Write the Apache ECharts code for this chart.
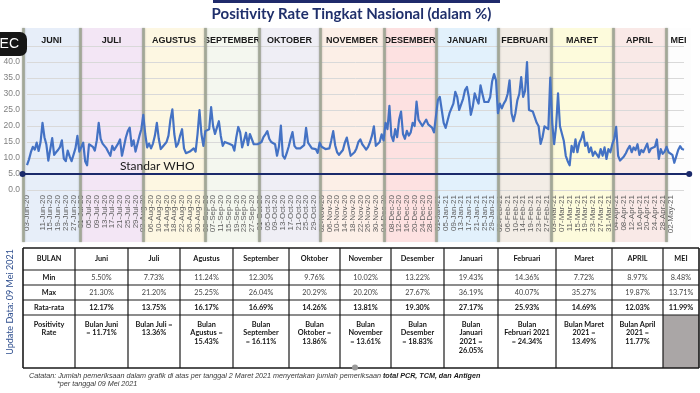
<!DOCTYPE html>
<html><head><meta charset="utf-8">
<script src="https://cdn.jsdelivr.net/npm/echarts@6/dist/echarts.min.js"></script>
<style>html,body{margin:0;padding:0;background:#fff}#c{width:700px;height:393px}</style>
</head><body><div id="c"></div>
<script>
// ---------- DATA (daily positivity rate, %) ----------
const valJun = [7.8, 9.5, 11.8, 13.5, 12.6, 14.8, 12.2, 15.0, 21.0, 16.5, 14.2, 9.2, 8.8, 16.2, 11.0, 11.8, 12.5, 13.4, 15.5, 9.8, 9.0, 12.3, 10.5, 9.0, 8.8, 13.0, 16.9, 12.0];
const valJul = [12.3, 14.8, 9.0, 7.7, 14.3, 14.8, 13.5, 12.3, 15.5, 21.0, 16.0, 14.5, 14.0, 13.0, 11.8, 10.7, 13.8, 12.5, 12.0, 14.5, 15.8, 10.7, 13.5, 16.4, 18.4, 19.5, 13.8, 15.5, 12.0, 12.5, 16.9];
const valAug = [19.0, 23.5, 17.5, 13.3, 14.5, 13.0, 14.5, 17.0, 21.0, 16.0, 12.8, 13.5, 13.0, 15.0, 17.0, 22.0, 25.2, 17.5, 13.5, 14.5, 17.0, 19.0, 13.0, 11.5, 11.2, 12.0, 11.5, 13.0, 12.0, 17.5, 25.0];
const valSep = [17.5, 13.8, 18.4, 18.0, 19.0, 25.9, 20.0, 17.5, 19.5, 21.5, 16.9, 13.8, 15.0, 15.5, 14.5, 15.0, 14.0, 12.3, 16.5, 19.7, 18.0, 13.3, 15.5, 17.9, 14.0, 17.5, 18.0, 14.3, 14.0, 14.3];
const valOct = [13.8, 15.0, 16.5, 17.4, 18.4, 16.0, 15.0, 15.5, 14.3, 10.7, 13.5, 20.1, 10.7, 9.8, 11.5, 13.5, 16.0, 18.1, 13.8, 13.0, 13.3, 13.0, 13.2, 14.0, 19.4, 14.8, 14.3, 13.0, 13.5, 12.8, 11.6];
const valNov = [14.8, 13.5, 13.3, 12.8, 13.3, 13.0, 15.5, 18.4, 14.0, 11.8, 11.0, 10.7, 12.5, 14.8, 16.4, 13.5, 10.7, 11.2, 11.8, 13.0, 15.0, 15.8, 14.3, 13.5, 12.6, 13.5, 15.0, 17.0, 19.9, 13.8];
const valDec = [14.0, 15.0, 17.4, 15.5, 21.0, 19.0, 26.3, 17.0, 15.3, 19.0, 16.5, 22.0, 24.5, 17.5, 16.0, 18.5, 17.0, 18.0, 21.0, 20.0, 27.6, 22.0, 22.5, 20.0, 21.0, 22.0, 20.5, 21.0, 19.5, 18.0, 17.7];
const valJan = [28.1, 29.1, 25.0, 21.0, 19.4, 20.0, 24.0, 25.5, 27.0, 30.7, 29.0, 25.0, 25.5, 28.5, 31.2, 32.2, 29.0, 23.5, 26.0, 30.2, 28.5, 27.0, 32.7, 30.0, 27.5, 27.1, 27.5, 29.0, 34.0, 36.2, 34.3];
const valFeb = [24.0, 27.0, 25.5, 27.0, 28.0, 30.0, 34.3, 24.0, 21.5, 24.0, 28.0, 30.0, 35.3, 29.1, 31.0, 40.0, 25.0, 25.0, 24.5, 24.0, 21.0, 19.9, 14.4, 16.5, 19.9, 20.5, 19.0];
const valMar = [35.1, 21.0, 14.3, 19.9, 30.2, 19.9, 19.4, 15.3, 10.7, 9.0, 7.7, 13.8, 11.8, 15.8, 11.8, 14.8, 16.0, 18.1, 13.8, 14.8, 11.8, 13.3, 10.7, 12.0, 11.8, 10.2, 12.8, 10.7, 13.3, 9.7, 12.8];
const valApr = [11.8, 14.3, 16.0, 19.7, 10.7, 9.2, 9.5, 10.5, 11.5, 12.8, 13.8, 11.8, 13.3, 12.5, 14.3, 11.0, 12.5, 11.8, 12.0, 14.5, 11.8, 13.0, 12.5, 13.5, 15.8, 9.7, 12.8, 11.3, 12.0, 13.5];
const valMay = [11.8, 12.3, 11.0, 8.5, 10.5, 12.5, 13.7, 12.8, 12.6];
const whoStandard = 5;
const missingDays = ['17-Feb-21'];

const monthNames = ['JUNI','JULI','AGUSTUS','SEPTEMBER','OKTOBER','NOVEMBER','DESEMBER','JANUARI','FEBRUARI','MARET','APRIL','MEI'];
const monthEdges = [-2.06, 27.35, 59.85, 91.85, 119.7, 151.2, 184.2, 211.0, 243.0, 270.4, 302.4, 329.7, 342.5];
const monthColors = ['#e7eef9','#f3e6f5','#fdf7e2','#f4f7ef','#efeef5','#fcefe7','#fde1e1','#e2f1fc','#f3ede6','#fdfbdc','#f9e9e7','#fdfdfd'];

const tblHead = ['BULAN','Juni','Juli','Agustus','September','Oktober','November','Desember','Januari','Februari','Maret','APRIL','MEI'];
const tblMin  = ['Min','5.50%','7.73%','11.24%','12.30%','9.76%','10.02%','13.22%','19.43%','14.36%','7.72%','8.97%','8.48%'];
const tblMax  = ['Max','21.30%','21.20%','25.25%','26.04%','20.29%','20.20%','27.67%','36.19%','40.07%','35.27%','19.87%','13.71%'];
const tblAvg  = ['Rata-rata','12.17%','13.75%','16.17%','16.69%','14.26%','13.81%','19.30%','27.17%','25.93%','14.69%','12.03%','11.99%'];
const tblRate = ['Positivity\nRate','Bulan Juni\n= 11.71%','Bulan Juli =\n13.36%','Bulan\nAgustus =\n15.43%','Bulan\nSeptember\n= 16.11%','Bulan\nOktober =\n13.86%','Bulan\nNovember\n= 13.61%','Bulan\nDesember\n= 18.83%','Bulan\nJanuari\n2021 =\n26.05%','Bulan\nFebruari 2021\n= 24.34%','Bulan Maret\n2021 =\n13.49%','Bulan April\n2021 =\n11.77%',''];

// ---------- categories (dates) ----------
const MON = ['Jan','Feb','Mar','Apr','May','Jun','Jul','Aug','Sep','Oct','Nov','Dec'];
const dates = [];
for (let d = new Date(Date.UTC(2020,5,3)); d <= new Date(Date.UTC(2021,4,9)); d.setUTCDate(d.getUTCDate()+1)) {
  const s = String(d.getUTCDate()).padStart(2,'0') + '-' + MON[d.getUTCMonth()] + '-' + String(d.getUTCFullYear()).slice(2);
  if (!missingDays.includes(s)) dates.push(s);
}
const values = [].concat(valJun,valJul,valAug,valSep,valOct,valNov,valDec,valJan,valFeb,valMar,valApr,valMay);

// ---------- layout ----------
const W = 700, H = 393;
const gL = 27, gR = 16, gT = 46, gB = 203;
const yMax = 45;
const ppi = (W - gL - gR) / (dates.length - 1);
const ppu = (H - gB - gT) / yMax;
const bTop = 28, bBot = 242;
const bxMin = -2.6, bxMax = 342.5;
const bandLeft = gL + bxMin * ppi;
const bandRight = W - (gL + bxMax * ppi);
const byMin = -(bBot - (H - gB)) / ppu;
const byMax = yMax + (gT - bTop) / ppu;

const bands = monthNames.map((n, i) => [
  { name: n, xAxis: monthEdges[i], itemStyle: { color: monthColors[i] } },
  { xAxis: monthEdges[i + 1] }
]);
const seps = monthEdges.slice(0, -1).map(e => ({ xAxis: e }));

// ---------- table graphics ----------
const colX = [23, 75, 128, 180, 233, 289, 340, 391, 444, 498, 556, 612, 663, 699];
const rowY = [248, 270, 285, 300, 315, 368];
const TF = 'Lato';
const tableEls = [];
tableEls.push({ type: 'rect', shape: { x: colX[12], y: rowY[4], width: colX[13]-colX[12], height: rowY[5]-rowY[4] }, style: { fill: '#aaa6a6' } });
const rows = [tblHead, tblMin, tblMax, tblAvg, tblRate];
rows.forEach((row, r) => {
  row.forEach((txt, c) => {
    const cx = (colX[c] + colX[c+1]) / 2;
    const bold = (c === 0) || r === 0 || r === 3 || r === 4;
    const isTop = r === 4;
    tableEls.push({
      type: 'text', x: cx, y: isTop ? rowY[4] + 5 : (rowY[r] + rowY[r+1]) / 2,
      style: { text: txt, align: 'center', verticalAlign: isTop ? 'top' : 'middle',
        fontFamily: TF, fontSize: 7.3, fontWeight: bold ? 'bold' : 'normal',
        fill: bold ? '#151515' : '#444', lineHeight: 8.7 }
    });
  });
});
rowY.forEach((y, i) => tableEls.push({ type: 'line', shape: { x1: colX[0], y1: y, x2: colX[colX.length-1], y2: y },
  style: { stroke: '#1a1a1a', lineWidth: (i === 0 || i === rowY.length-1) ? 1.6 : 1.2 } }));
colX.forEach((x, i) => tableEls.push({ type: 'line', shape: { x1: x, y1: rowY[0], x2: x, y2: rowY[rowY.length-1] },
  style: { stroke: '#1a1a1a', lineWidth: (i === 0 || i === colX.length-1) ? 1.6 : 1.2 } }));

const chart = echarts.init(document.getElementById('c'), null, { renderer: 'canvas' });
chart.setOption({
  animation: false,
  backgroundColor: '#ffffff',
  grid: [
    { left: gL, right: gR, top: gT, bottom: gB, outerBoundsMode: 'none', containLabel: false },
    { left: bandLeft, right: bandRight, top: bTop, bottom: H - bBot, outerBoundsMode: 'none', containLabel: false }
  ],
  xAxis: [
    { type: 'category', gridIndex: 0, data: dates, boundaryGap: false, z: 2,
      axisLine: { show: false }, axisTick: { show: false }, splitLine: { show: false },
      axisLabel: { interval: 3, rotate: 90, fontSize: 8, color: '#5e5e5e', margin: 5, fontFamily: 'Liberation Sans',
        showMinLabel: true, hideOverlap: false } },
    { type: 'value', gridIndex: 1, min: bxMin, max: bxMax, show: false }
  ],
  yAxis: [
    { type: 'value', gridIndex: 0, min: 0, max: yMax, interval: 5, z: 2,
      axisLine: { show: false }, axisTick: { show: false },
      splitLine: { lineStyle: { color: '#d9d9d9', width: 1 } },
      axisLabel: { formatter: v => v === yMax ? '' : v.toFixed(1), fontSize: 8.5, color: '#808080', margin: 7, fontFamily: 'Liberation Sans' } },
    { type: 'value', gridIndex: 1, min: byMin, max: byMax, show: false }
  ],
  series: [
    { type: 'line', xAxisIndex: 1, yAxisIndex: 1, data: [], silent: true, z: 0,
      markArea: { silent: true, z: 1,
        label: { show: true, position: 'insideTop', distance: 8, fontSize: 9, fontWeight: 'bold', color: '#1a1a1a', fontFamily: 'Liberation Sans' },
        itemStyle: { borderWidth: 0 },
        data: bands },
      markLine: { silent: true, z: 2.5, symbol: 'none', animation: false,
        label: { show: false },
        lineStyle: { color: '#a2a897', width: 2.6, type: 'solid', shadowColor: 'rgba(0,0,0,0.3)', shadowBlur: 2 },
        data: seps.concat([[
          { coord: [bxMin + 0.3, whoStandard], symbol: 'circle', symbolSize: 6, lineStyle: { color: '#1b2a6b', width: 2, shadowBlur: 0 } },
          { coord: [bxMax - 0.8, whoStandard], symbol: 'circle', symbolSize: 6 }
        ]]) } },
    { type: 'line', name: 'Positivity Rate', xAxisIndex: 0, yAxisIndex: 0, data: values, z: 3,
      showSymbol: false, symbol: 'none', smooth: false,
      lineStyle: { color: '#4472c4', width: 2.2, join: 'round' } }
  ],
  graphic: [
    { type: 'rect', shape: { x: 213, y: 0, width: 287, height: 3 }, style: { fill: '#1f2a6b' } },
    { type: 'text', x: 351.5, y: 14, style: { text: 'Positivity Rate Tingkat Nasional (dalam %)', align: 'center', verticalAlign: 'middle',
        fontFamily: 'Lato', fontSize: 15, fontWeight: 'bold', fill: '#1f2f6b' } },
    { type: 'rect', z: 50, shape: { x: -8, y: 32, width: 35, height: 24, r: 7 }, style: { fill: '#161616' } },
    { type: 'text', z: 51, x: 19, y: 44, style: { text: 'REC', align: 'right', verticalAlign: 'middle', fontFamily: 'Liberation Sans', fontSize: 14, fill: '#ffffff' } },
    { type: 'text', z: 10, x: 120, y: 166, style: { text: 'Standar WHO', align: 'left', verticalAlign: 'middle', fontFamily: 'Lato', fontSize: 12, fill: '#1a1a1a' } },
    { type: 'text', x: 10, y: 302, rotation: Math.PI / 2, style: { text: 'Update Data: 09 Mei 2021', align: 'center', verticalAlign: 'middle',
        fontFamily: 'Lato', fontSize: 9, fill: '#2f4f8f' } },
    { type: 'group', children: tableEls },
    { type: 'circle', shape: { cx: 355, cy: 367.5, r: 3 }, style: { fill: '#9a9a9a' } },
    { type: 'text', x: 29, y: 376, style: { text: '{i|Catatan: Jumlah pemeriksaan dalam grafik di atas per tanggal 2 Maret 2021 menyertakan jumlah pemeriksaan }{b|total PCR, TCM, dan Antigen}',
        verticalAlign: 'middle',
        rich: { i: { fontFamily: 'Liberation Sans', fontStyle: 'italic', fontSize: 7.2, fill: '#3a3a3a' },
                b: { fontFamily: 'Liberation Sans', fontStyle: 'italic', fontWeight: 'bold', fontSize: 7.2, fill: '#1a1a1a' } } } },
    { type: 'text', x: 57, y: 384, style: { text: '*per tanggal 09 Mei 2021', verticalAlign: 'middle',
        fontFamily: 'Liberation Sans', fontStyle: 'italic', fontSize: 7.2, fill: '#3a3a3a' } }
  ]
});
</script></body></html>
